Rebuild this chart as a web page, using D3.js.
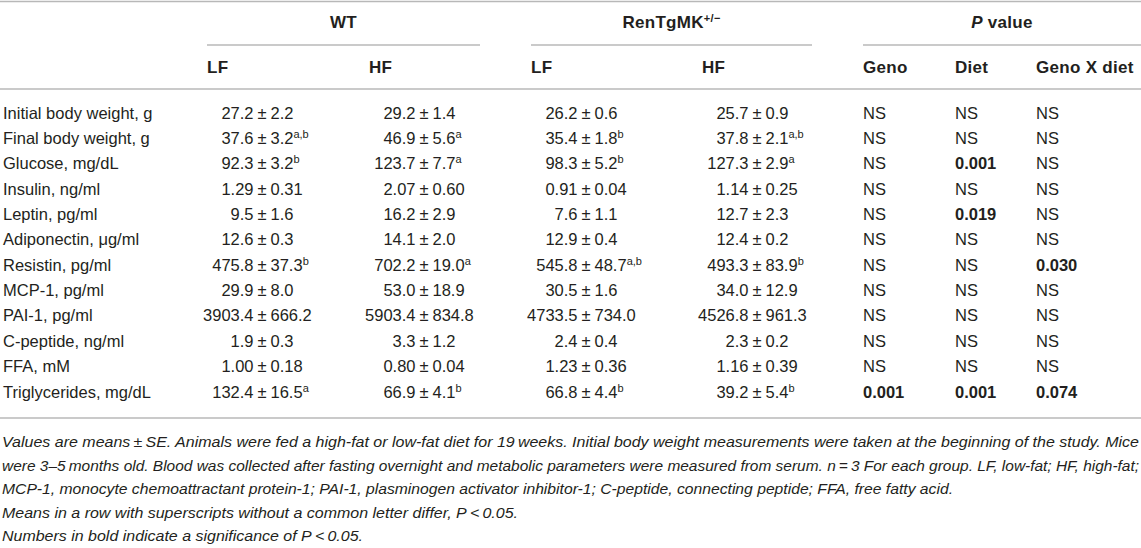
<!DOCTYPE html>
<html>
<head>
<meta charset="utf-8">
<script src="https://cdn.jsdelivr.net/npm/d3@7"></script>
<style>
  body { margin: 0; background: #fff; }
  svg { display: block; }
  text { font-family: "Liberation Sans", Arial, sans-serif; fill: #231f20; }
  .cell { font-size: 16.5px; }
  .head { font-size: 17px; font-weight: bold; letter-spacing: 0.3px; }
  .note { font-size: 15px; font-style: italic; }
  .rule { stroke: #b8b8b8; stroke-width: 1.5; }
</style>
</head>
<body>
<svg id="table" width="1141" height="548"></svg>
<script>
var rowLabels = [
    "Initial body weight, g", "Final body weight, g", "Glucose, mg/dL", "Insulin, ng/ml",
    "Leptin, pg/ml", "Adiponectin, \u03bcg/ml", "Resistin, pg/ml", "MCP-1, pg/ml",
    "PAI-1, pg/ml", "C-peptide, ng/ml", "FFA, mM", "Triglycerides, mg/dL"
];

// [mean, SE, superscript]
var wtLF = [
    ["27.2", "2.2", ""], ["37.6", "3.2", "a,b"], ["92.3", "3.2", "b"], ["1.29", "0.31", ""],
    ["9.5", "1.6", ""], ["12.6", "0.3", ""], ["475.8", "37.3", "b"], ["29.9", "8.0", ""],
    ["3903.4", "666.2", ""], ["1.9", "0.3", ""], ["1.00", "0.18", ""], ["132.4", "16.5", "a"]
];
var wtHF = [
    ["29.2", "1.4", ""], ["46.9", "5.6", "a"], ["123.7", "7.7", "a"], ["2.07", "0.60", ""],
    ["16.2", "2.9", ""], ["14.1", "2.0", ""], ["702.2", "19.0", "a"], ["53.0", "18.9", ""],
    ["5903.4", "834.8", ""], ["3.3", "1.2", ""], ["0.80", "0.04", ""], ["66.9", "4.1", "b"]
];
var renLF = [
    ["26.2", "0.6", ""], ["35.4", "1.8", "b"], ["98.3", "5.2", "b"], ["0.91", "0.04", ""],
    ["7.6", "1.1", ""], ["12.9", "0.4", ""], ["545.8", "48.7", "a,b"], ["30.5", "1.6", ""],
    ["4733.5", "734.0", ""], ["2.4", "0.4", ""], ["1.23", "0.36", ""], ["66.8", "4.4", "b"]
];
var renHF = [
    ["25.7", "0.9", ""], ["37.8", "2.1", "a,b"], ["127.3", "2.9", "a"], ["1.14", "0.25", ""],
    ["12.7", "2.3", ""], ["12.4", "0.2", ""], ["493.3", "83.9", "b"], ["34.0", "12.9", ""],
    ["4526.8", "961.3", ""], ["2.3", "0.2", ""], ["1.16", "0.39", ""], ["39.2", "5.4", "b"]
];

// P values; a leading "*" marks bold (significant) entries
var pGeno = ["NS", "NS", "NS", "NS", "NS", "NS", "NS", "NS", "NS", "NS", "NS", "*0.001"];
var pDiet = ["NS", "NS", "*0.001", "NS", "*0.019", "NS", "NS", "NS", "NS", "NS", "NS", "*0.001"];
var pGxD  = ["NS", "NS", "NS", "NS", "NS", "NS", "*0.030", "NS", "NS", "NS", "NS", "*0.074"];

var groupLabels = ["WT", "RenTgMK", "P value"];
var subLabels = ["LF", "HF", "LF", "HF", "Geno", "Diet", "Geno X diet"];

var notes = [
    "Values are means\u2009\u00b1\u2009SE. Animals were fed a high-fat or low-fat diet for 19\u2009weeks. Initial body weight measurements were taken at the beginning of the study. Mice",
    "were 3\u20135\u2009months old. Blood was collected after fasting overnight and metabolic parameters were measured from serum. n\u2009=\u20093 For each group. LF, low-fat; HF, high-fat;",
    "MCP-1, monocyte chemoattractant protein-1; PAI-1, plasminogen activator inhibitor-1; C-peptide, connecting peptide; FFA, free fatty acid.",
    "Means in a row with superscripts without a common letter differ, P\u2009<\u20090.05.",
    "Numbers in bold indicate a significance of P\u2009<\u20090.05."
];
var noteWidths = [1137, 1137, 951, 516, 361];

var svg = d3.select("#table");
var W = 1141;

var colKeys = ["wtLF", "wtHF", "renLF", "renHF", "geno", "diet", "gxd"];
var colX = d3.scaleOrdinal().domain(colKeys).range([207, 369, 531, 702, 863, 955, 1036]);
var pmOffset = 55;

var rowY = d3.scalePoint().domain(rowLabels).range([113, 392]);
var noteY = d3.scalePoint().domain(d3.range(notes.length)).range([442, 536]);

// rules
var rules = [
    { x1: 0, x2: W, y: 1.5 },
    { x1: colX("wtLF"), x2: 480, y: 45 },
    { x1: colX("renLF"), x2: 812, y: 45 },
    { x1: colX("geno"), x2: W, y: 45 },
    { x1: 0, x2: W, y: 89 },
    { x1: 0, x2: W, y: 418 }
];
svg.selectAll("line.rule").data(rules).enter().append("line")
    .attr("class", "rule")
    .attr("x1", function (d) { return d.x1; })
    .attr("x2", function (d) { return d.x2; })
    .attr("y1", function (d) { return d.y; })
    .attr("y2", function (d) { return d.y; });

// group headings
var groupCenters = [(colX("wtLF") + 480) / 2, (colX("renLF") + 812) / 2, (colX("geno") + W) / 2];
var gh = svg.selectAll("text.group").data(groupLabels).enter().append("text")
    .attr("class", "head group")
    .attr("text-anchor", "middle")
    .attr("x", function (d, i) { return groupCenters[i]; })
    .attr("y", 28);
gh.each(function (d) {
    var t = d3.select(this);
    if (d === "RenTgMK") {
        t.append("tspan").text(d);
        t.append("tspan").attr("font-size", 11).attr("dy", -6).text("+/\u2212");
    } else if (d === "P value") {
        t.append("tspan").attr("font-style", "italic").text("P");
        t.append("tspan").text(" value");
    } else {
        t.text(d);
    }
});

svg.selectAll("text.sub").data(subLabels).enter().append("text")
    .attr("class", "head sub")
    .attr("x", function (d, i) { return colX(colKeys[i]); })
    .attr("y", 73)
    .text(function (d) { return d; });

// row labels
svg.selectAll("text.label").data(rowLabels).enter().append("text")
    .attr("class", "cell label")
    .attr("x", 3)
    .attr("y", function (d) { return rowY(d) + 5.5; })
    .text(function (d) { return d; });

// mean ± SE columns, aligned on the ± sign
var valueCols = [wtLF, wtHF, renLF, renHF];
valueCols.forEach(function (col, c) {
    var pm = colX(colKeys[c]) + pmOffset;
    var g = svg.append("g").attr("class", "col-" + colKeys[c]);
    var cells = g.selectAll("g").data(col).enter().append("g")
        .attr("transform", function (d, i) { return "translate(" + pm + "," + (rowY(rowLabels[i]) + 5.5) + ")"; });
    cells.append("text").attr("class", "cell")
        .attr("text-anchor", "end").attr("x", -8.5)
        .text(function (d) { return d[0]; });
    cells.append("text").attr("class", "cell")
        .attr("text-anchor", "middle").attr("x", 0)
        .text("\u00b1");
    var se = cells.append("text").attr("class", "cell")
        .attr("x", 8.5);
    se.append("tspan").text(function (d) { return d[1]; });
    se.append("tspan").attr("font-size", 11).attr("dy", -6)
        .text(function (d) { return d[2]; });
});

// P value columns
[pGeno, pDiet, pGxD].forEach(function (col, c) {
    svg.append("g").selectAll("text").data(col).enter().append("text")
        .attr("class", "cell")
        .attr("x", colX(colKeys[4 + c]))
        .attr("y", function (d, i) { return rowY(rowLabels[i]) + 5.5; })
        .attr("font-weight", function (d) { return d.charAt(0) === "*" ? "bold" : null; })
        .text(function (d) { return d.replace("*", ""); });
});

// footnotes
svg.selectAll("text.note").data(notes).enter().append("text")
    .attr("class", "note")
    .attr("x", 2)
    .attr("y", function (d, i) { return noteY(i) + 5; })
    .attr("textLength", function (d, i) { return noteWidths[i]; })
    .attr("lengthAdjust", "spacingAndGlyphs")
    .text(function (d) { return d; });
</script>
</body>
</html>
